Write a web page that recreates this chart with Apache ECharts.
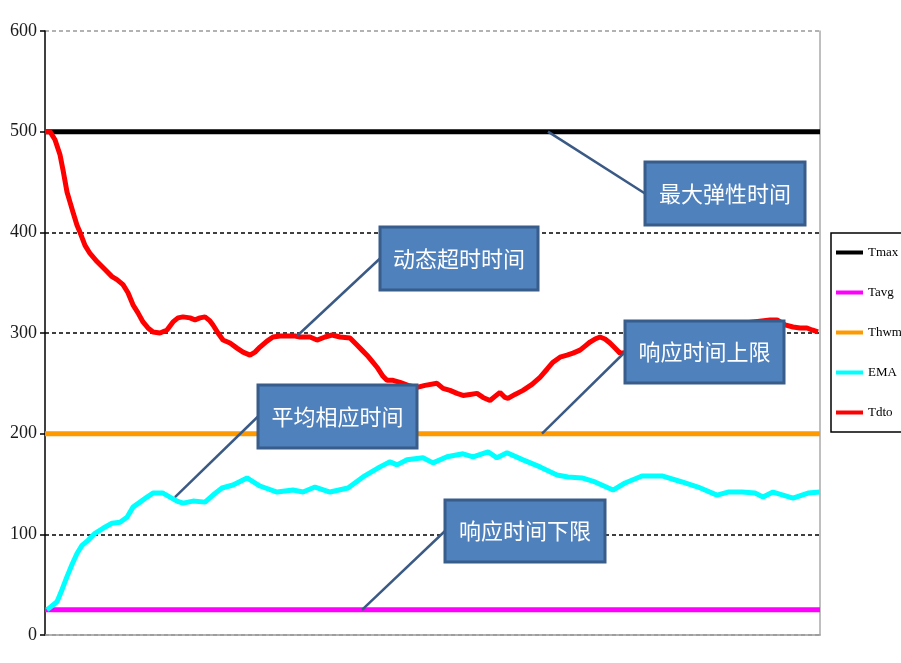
<!DOCTYPE html>
<html>
<head>
<meta charset="utf-8">
<script src="https://cdn.jsdelivr.net/npm/echarts@6/dist/echarts.min.js"></script>
<style>
  html, body { margin: 0; padding: 0; background: #fff; }
  #chart { width: 901px; height: 663px; }
</style>
</head>
<body>
<div id="chart"></div>
<script>
// 图表实例
const chart = echarts.init(document.getElementById('chart'));

// 时间轴范围（采样步）
const T_MAX = 155;

// 固定阈值
const TMAX_VALUE = 500; // 最大弹性时间
const TAVG_VALUE = 25;  // 响应时间下限
const THWM_VALUE = 200; // 响应时间上限

// 动态超时时间 Tdto：[时间, 值]
const tdtoData = [
  [0, 500], [1, 500], [2, 492], [3, 477], [3.6, 462], [4.4, 440], [5, 430], [5.6, 420],
  [6.4, 407], [7, 400], [8, 387], [9, 379], [10.4, 371], [12, 363], [13.4, 356], [14.4, 353],
  [15.6, 348], [16.6, 340], [17.6, 328], [18.6, 320], [19.6, 311], [20.6, 305], [21.6, 301],
  [23, 300], [24.4, 303], [25.6, 311], [26.6, 315], [27.6, 316], [29, 315], [30, 313],
  [31, 315], [32, 316], [33, 312], [33.6, 308], [34.6, 300], [35.6, 293], [37, 290],
  [38.4, 285], [39.6, 281], [41, 278], [42, 281], [43, 286], [44.4, 292], [45.6, 296],
  [47, 297], [48.4, 297], [50, 297], [51, 296], [53, 296], [54.4, 293], [56, 296],
  [57.4, 298], [59, 296], [61, 295], [62.4, 288], [63.4, 283], [64.4, 278], [65.4, 272],
  [66.4, 266], [67.6, 257], [68.4, 253], [69.6, 253], [71, 251], [72.6, 248], [74.4, 246],
  [76, 248], [78.4, 250], [79.6, 245], [81, 243], [82.4, 240], [83.6, 238], [85, 239],
  [86.4, 240], [87.6, 236], [89, 233], [90, 237], [91, 241], [92, 236], [92.6, 235],
  [94, 239], [95.6, 243], [97.4, 249], [99, 256], [100.4, 264], [101.6, 271], [103, 276],
  [104.4, 278], [105.6, 280], [107, 283], [108, 287], [109, 291], [110, 294], [111, 296],
  [112, 294], [113, 290], [114, 285], [115, 280], [117, 281], [120, 288], [124, 295],
  [129, 301], [134, 305], [140, 310], [145, 313], [146.4, 313], [148, 308], [149.6, 306],
  [151, 305], [152.4, 305], [153.4, 303], [154.6, 301]
];

// 平均相应时间 EMA：[时间, 值]
const emaData = [
  [0.4, 25], [2.4, 33], [3.4, 45], [4.4, 58], [5.4, 70], [6.4, 81], [7.4, 89], [8.6, 94],
  [10, 101], [11.6, 106], [13.4, 111], [15, 112], [16.4, 117], [17.6, 127], [19, 132],
  [20.4, 137], [21.6, 141], [23.6, 141], [25, 137], [26.4, 133], [27.6, 131], [29.6, 133],
  [32, 132], [33.6, 139], [35.4, 146], [37.6, 149], [40.4, 156], [43, 148], [46.4, 142],
  [49.6, 144], [51.6, 142], [54, 147], [57, 142], [60.6, 146], [63.6, 157], [67, 167],
  [69, 172], [70.4, 169], [72.4, 174], [75.6, 176], [77.6, 171], [80.4, 177], [83.6, 180],
  [85.6, 177], [88.6, 182], [90.4, 176], [92.4, 181], [95.6, 174], [99, 167], [102.4, 159],
  [104.6, 157], [107.4, 156], [110, 152], [113.6, 144], [116, 151], [119.4, 158],
  [123.4, 158], [127.4, 152], [130.6, 147], [134.4, 139], [136.6, 142], [139.4, 142],
  [142, 141], [143.6, 137], [145.6, 142], [149.6, 136], [152.6, 141], [155, 142]
];

const LEGEND_NAMES = ['Tmax', 'Tavg', 'Thwm', 'EMA', 'Tdto'];
const SERIES_COLORS = ['#000000', '#ff00ff', '#ff9900', '#00ffff', '#ff0000'];

// 标注框：文字、锚点（数据坐标）、框位置
const CALLOUTS = [
  { text: '最大弹性时间', anchor: [100.6, 500], box: [645, 162, 160, 63] },
  { text: '动态超时时间', anchor: [50.4, 297], box: [380, 227, 158, 63] },
  { text: '响应时间上限', anchor: [99.4, 200], box: [625, 321, 159, 62] },
  { text: '平均相应时间', anchor: [26, 137], box: [258, 385, 159, 63] },
  { text: '响应时间下限', anchor: [63.4, 25], box: [445, 500, 160, 62] }
];

const flat = v => [[0, v], [T_MAX, v]];

function lineSeries(name, data, color) {
  return {
    name, type: 'line', data,
    showSymbol: false, symbol: 'none',
    lineStyle: { color, width: 5 },
    itemStyle: { color },
    animation: false
  };
}

chart.setOption({
  animation: false,
  grid: { left: 45, right: 81, top: 31, bottom: 28 },
  legend: {
    orient: 'vertical',
    left: 831, top: 233,
    data: LEGEND_NAMES,
    icon: 'rect',
    itemWidth: 27, itemHeight: 4, itemGap: 27,
    padding: [13, 2, 13, 5],
    borderColor: '#000', borderWidth: 1.5, borderRadius: 0,
    backgroundColor: '#fff',
    textStyle: { fontFamily: 'Liberation Serif', fontSize: 13, color: '#000' }
  },
  xAxis: {
    type: 'value', min: 0, max: T_MAX,
    axisLine: { show: true, lineStyle: { color: '#999', width: 1.5 } },
    axisTick: { show: false }, axisLabel: { show: false }, splitLine: { show: false }
  },
  yAxis: [
    {
      type: 'value', min: 0, max: 600, interval: 100,
      axisLine: { show: true, lineStyle: { color: '#000', width: 1.5 } },
      axisTick: { show: true, length: 5, lineStyle: { color: '#000', width: 1.5 } },
      axisLabel: { fontFamily: 'Liberation Serif', fontSize: 18, color: '#1a1a1a', margin: 8 },
      splitLine: {
        show: true,
        lineStyle: { type: [4, 3], width: 1.5, color: ['#999', '#000', '#000', '#000', '#000', '#000', '#999'] }
      }
    },
    {
      type: 'value', min: 0, max: 600, position: 'right',
      axisLine: { show: true, lineStyle: { color: '#aaa', width: 1.5 } },
      axisTick: { show: false }, axisLabel: { show: false }, splitLine: { show: false }
    }
  ],
  series: [
    lineSeries('Tmax', flat(TMAX_VALUE), SERIES_COLORS[0]),
    lineSeries('Tavg', flat(TAVG_VALUE), SERIES_COLORS[1]),
    lineSeries('Thwm', flat(THWM_VALUE), SERIES_COLORS[2]),
    lineSeries('EMA', emaData, SERIES_COLORS[3]),
    lineSeries('Tdto', tdtoData, SERIES_COLORS[4])
  ]
});

// 标注框与引线（锚点由坐标轴换算）
const graphics = [];
CALLOUTS.forEach(c => {
  const p = chart.convertToPixel({ gridIndex: 0 }, c.anchor);
  const [bx, by, bw, bh] = c.box;
  graphics.push({
    type: 'line', z: 100,
    shape: { x1: p[0], y1: p[1], x2: bx, y2: by + bh / 2 },
    style: { stroke: '#3a5a85', lineWidth: 2.5 }
  });
  graphics.push({
    type: 'rect', z: 101,
    shape: { x: bx, y: by, width: bw, height: bh },
    style: { fill: '#4f81bd', stroke: '#385d8a', lineWidth: 3 }
  });
  graphics.push({
    type: 'text', z: 102,
    x: bx + bw / 2, y: by + bh / 2,
    style: {
      text: c.text, fill: '#fff', align: 'center', verticalAlign: 'middle',
      font: '22px "Noto Sans CJK SC"'
    }
  });
});
chart.setOption({ graphic: graphics });
</script>
</body>
</html>
